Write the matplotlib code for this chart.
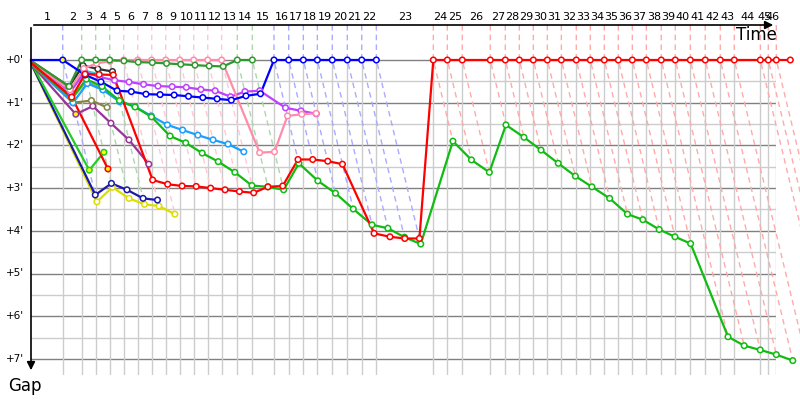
import numpy as np
import matplotlib.pyplot as plt

# leader race time (min) at the end of each lap, index 0 = start
leader_time = [0.0, 3.08, 4.92, 6.28, 7.64, 9.00, 10.36, 11.72, 13.08, 14.44,
               15.80, 17.16, 18.51, 20.03, 21.49, 23.59, 25.02, 26.44, 27.80, 29.25,
               30.71, 32.11, 33.53, 39.06, 40.42, 41.87, 44.59, 46.05, 47.41, 48.77,
               50.13, 51.49, 52.94, 54.30, 55.66, 57.02, 58.38, 59.74, 61.19, 62.55,
               64.01, 65.46, 66.92, 68.28, 70.81, 71.58, 72.36, 73.72]
lap_labels = [str(i) for i in range(1, 47)]
lap_leader = ['blue'] + ['dkgreen'] * 3 + ['pink'] * 8 + ['dkgreen'] * 2 + ['blue'] * 8 + ['red'] * 24
gap_labels = ["+%d'" % i for i in range(8)]

# gap to leader (min) per lap, starting from lap 0
gap_red = [0.08, 0.87, 0.33, 0.34, 0.35, 2.81, 2.91, 2.95, 2.96, 3.00, 3.04, 3.08, 3.11,
           2.97, 2.95, 2.33, 2.33, 2.37, 2.44, 4.06, 4.14, 4.18, 4.18] + [0.0] * 25
gap_blue = [0.0, 0.0, 0.35, 0.51, 0.72, 0.74, 0.80, 0.81, 0.82, 0.85, 0.88, 0.91, 0.94,
            0.84, 0.79, 0, 0, 0, 0, 0, 0, 0, 0]
gap_dkgreen = [0.02, 0.62, 0, 0, 0, 0.02, 0.05, 0.06, 0.08, 0.10, 0.12, 0.14, 0.15, 0, 0]
gap_pink = [0.06, 0.70, 0.20, 0.08, 0.03, 0, 0, 0, 0, 0, 0, 0, 0, 2.17, 2.15, 1.31, 1.27, 1.25]
gap_magenta = [0.05, 0.75, 0.28, 0.40, 0.475, 0.515, 0.57, 0.61, 0.625, 0.64, 0.69, 0.72,
               0.86, 0.74, 0.72, 1.12, 1.19, 1.26]
gap_black = [0.03, 0.62, 0.13, 0.21, 0.27]
gap_green = [0.10, 0.90, 0.45, 0.62, 0.95, 1.10, 1.33, 1.78, 1.94, 2.18, 2.38, 2.63, 2.94,
             2.97, 3.04, 2.42, 2.83, 3.12, 3.49, 3.86, 3.94, 4.15, 4.31,
             1.90, 2.34, 2.63, 1.52, 1.81, 2.11, 2.42, 2.72, 2.97, 3.24, 3.61, 3.74,
             3.97, 4.14, 4.30, 6.48, 6.69, 6.79, 6.90, 7.04]
gap_sky = [0.10, 1.00, 0.55, 0.70, 0.98, 1.09, 1.31, 1.52, 1.64, 1.76, 1.87, 1.97, 2.15]
gap_teal = [0.04, 0.70, 0.25, 0.33]
gap_olive = [0.07, 0.90, 0.49, 0.69]
gap_khaki = [0.12, 1.00, 0.95, 1.11]
gap_purple = [0.13, 1.27, 1.08, 1.48, 1.87, 2.44]
gap_navy = [0.15, 3.16, 2.89, 3.04, 3.24, 3.28]
gap_yellow = [0.18, 3.32, 2.98, 3.24, 3.38, 3.42, 3.61]
gap_green2 = [0.11, 2.58, 2.16]
gap_red2 = [0.09, 0.86, 2.55]

# (gaps, colour, laps drawn with yellow fill)
series = [
    (gap_yellow, '#dddd00', []),
    (gap_navy, '#1a1aaa', []),
    (gap_green2, '#22cc22', [1, 2]),
    (gap_red2, '#ff0000', [1, 2]),
    (gap_purple, '#993399', [1]),
    (gap_khaki, '#858545', []),
    (gap_olive, '#a8a870', []),
    (gap_teal, '#33cccc', []),
    (gap_black, '#333333', []),
    (gap_sky, '#1a9fff', []),
    (gap_green, '#11bb11', []),
    (gap_magenta, '#c040ff', []),
    (gap_pink, '#ff8caa', []),
    (gap_dkgreen, '#2e992e', []),
    (gap_blue, '#0000ff', [1]),
    (gap_red, '#ff0000', []),
]
dash_col = {'blue': '#aaaaff', 'dkgreen': '#aad8aa', 'pink': '#ffc8d4', 'red': '#ffaaaa'}

xpx = 10.3  # px per minute on x
ypx = 42.7  # px per minute on y
fig = plt.figure(figsize=(8, 4), dpi=100)
ax = fig.add_axes([31 / 800, 25 / 400, 745 / 800, 350 / 400])
xmax = 745 / xpx
ytop = -35 / ypx
ybot = 315 / ypx
ax.set_xlim(0, xmax)
ax.set_ylim(ybot, ytop)
ax.axis('off')

# horizontal grid
for g in np.arange(0.5, 7.0, 1.0):
    ax.plot([0, xmax], [g, g], color='#cccccc', lw=1, zorder=1)
for g in range(8):
    ax.plot([0, xmax], [g, g], color='#808080', lw=1, zorder=1)
    fig.text(24 / 800, 1 - (60 + g * ypx) / 400, gap_labels[g], ha='right', va='center',
             fontsize=7.5)

# lap grid + lap lines
for k in range(1, 47):
    t = leader_time[k]
    ax.plot([t, t], [0, ybot], color='#cccccc', lw=1, zorder=1)
    gmax = max([s[0][k] for s in series if len(s[0]) > k and s[0][k] > 0] or [7.4])
    ax.plot([t, t, t + gmax], [ytop, 0, gmax], color=dash_col[lap_leader[k - 1]],
            lw=1, ls=(0, (4, 3)), zorder=2, clip_on=False)
    mid = (leader_time[k - 1] + t) / 2
    fig.text((31 + mid * xpx) / 800, 1 - 17 / 400, lap_labels[k - 1], ha='center',
             va='center', fontsize=8)

# series
for gaps, col, ylaps in series:
    xs = [leader_time[i] + g for i, g in enumerate(gaps)]
    ax.plot(xs, gaps, color=col, lw=1.6, zorder=3, clip_on=False)
    fc = ['#ffff00' if i in ylaps else 'white' for i in range(len(gaps))]
    ax.scatter(xs[1:], gaps[1:], s=16, facecolors=fc[1:], edgecolors=col, linewidths=1.1,
               zorder=4, clip_on=False)

# axes arrows
ax.annotate('', xy=(745 / xpx, ytop), xytext=(0, ytop),
            arrowprops=dict(arrowstyle='-|>', color='black', lw=1.2, mutation_scale=12),
            annotation_clip=False)
ax.annotate('', xy=(0, 313 / ypx), xytext=(0, ytop),
            arrowprops=dict(arrowstyle='-|>', color='black', lw=1.2, mutation_scale=12),
            annotation_clip=False)
fig.text(777 / 800, 1 - 35 / 400, 'Time', ha='right', va='center', fontsize=12)
fig.text(25 / 800, 1 - 386 / 400, 'Gap', ha='center', va='center', fontsize=12)

fig.savefig('out.png', dpi=100)
